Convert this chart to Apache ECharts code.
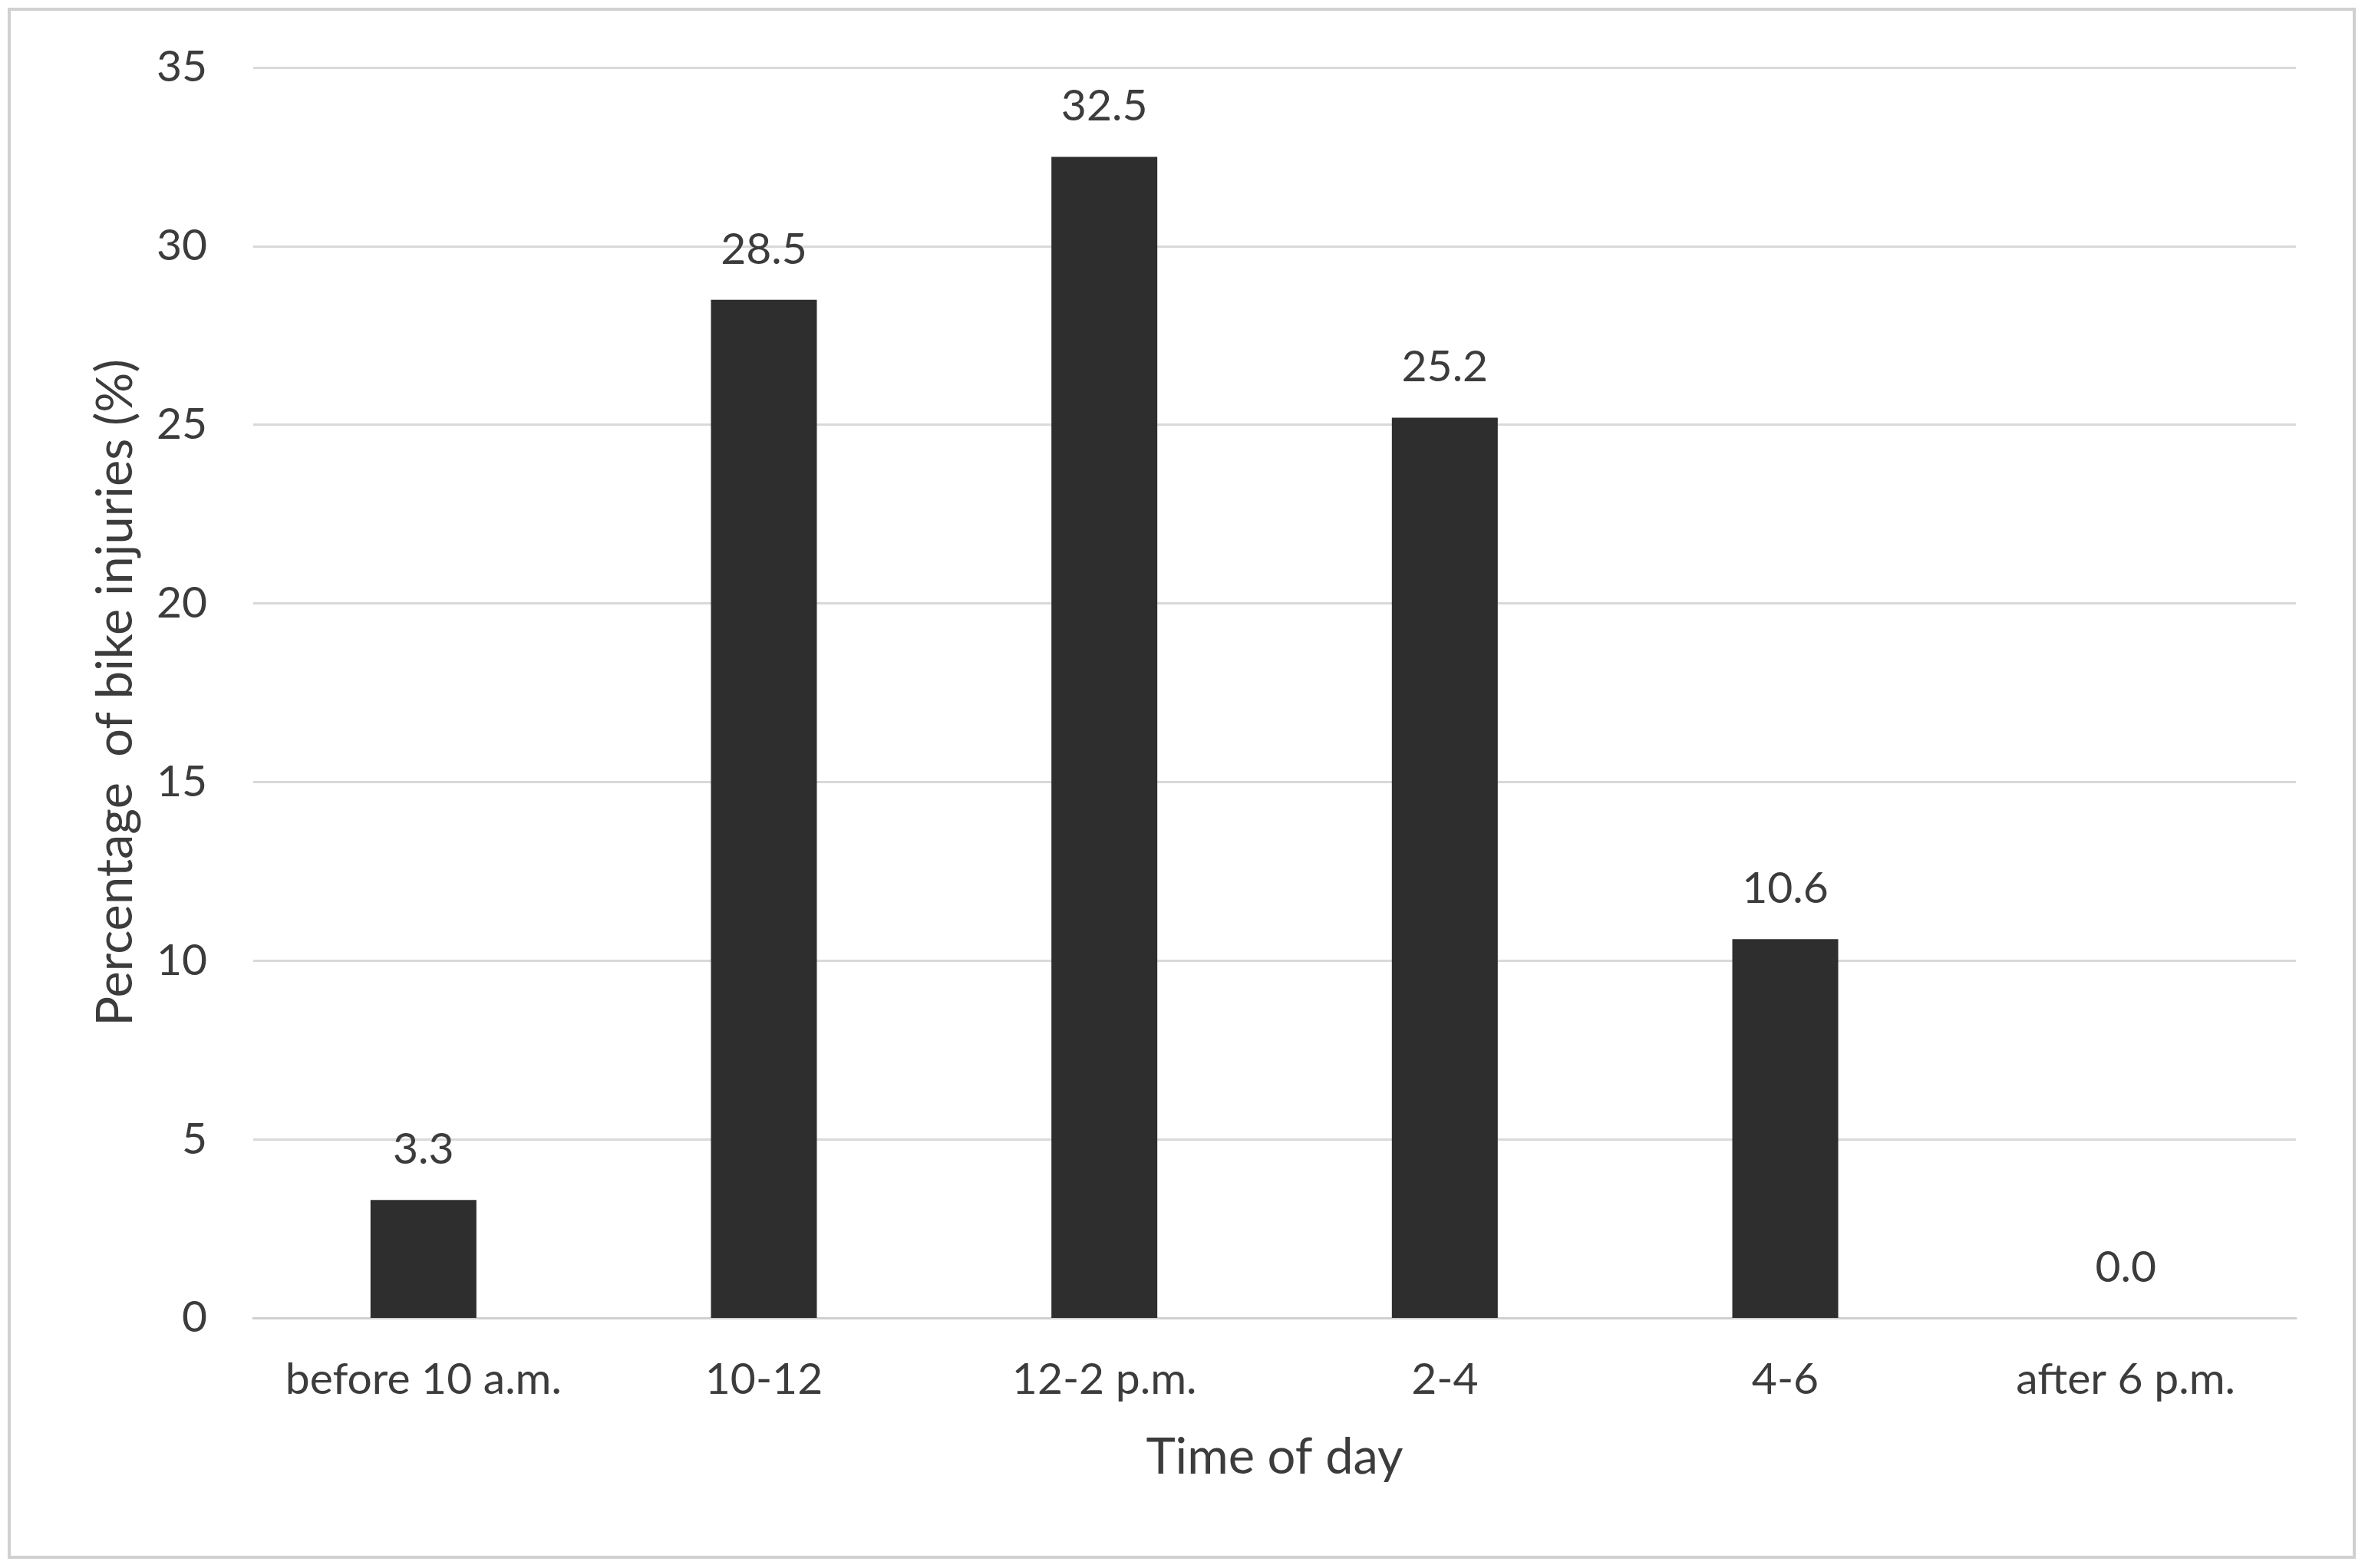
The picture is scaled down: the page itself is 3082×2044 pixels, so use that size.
<!DOCTYPE html>
<html>
<head>
<meta charset="utf-8">
<script src="https://cdn.jsdelivr.net/npm/echarts@6/dist/echarts.min.js"></script>
<style>
html,body{margin:0;padding:0;background:#fff;}
#chart{width:3082px;height:2044px;}
</style>
</head>
<body>
<div id="chart"></div>
<script>
const categories = ["before 10 a.m.", "10-12", "12-2 p.m.", "2-4", "4-6", "after 6 p.m."];
const injuryPercent = [3.3, 28.5, 32.5, 25.2, 10.6, 0.0];
const yTicks = { min: 0, max: 35, interval: 5 };
const xAxisTitle = "Time of day";
const yAxisTitle = "Percentage  of bike injuries (%)";

const FONT = "Lato, 'Open Sans', sans-serif";
const TXT = "#3c3c3c";

const chart = echarts.init(document.getElementById('chart'), null, { renderer: 'canvas' });
chart.setOption({
  backgroundColor: '#ffffff',
  animation: false,
  graphic: [{
    type: 'rect',
    shape: { x: 12, y: 12, width: 3056, height: 2018 },
    style: { fill: 'none', stroke: '#d0d0d0', lineWidth: 4 },
    silent: true
  }],
  grid: { left: 330, right: 90, top: 88, bottom: 326, containLabel: false },
  xAxis: {
    type: 'category',
    data: categories,
    name: xAxisTitle,
    nameLocation: 'middle',
    nameGap: 150,
    nameTextStyle: { fontFamily: FONT, fontSize: 65, color: TXT },
    axisLine: { show: true, lineStyle: { color: '#d0d0d0', width: 3 } },
    axisTick: { show: false },
    axisLabel: { fontFamily: FONT, fontSize: 57, color: TXT, margin: 52, interval: 0 }
  },
  yAxis: {
    type: 'value',
    min: yTicks.min, max: yTicks.max, interval: yTicks.interval,
    name: yAxisTitle,
    nameLocation: 'middle',
    nameGap: 146,
    nameRotate: 90,
    nameTextStyle: { fontFamily: FONT, fontSize: 65, color: TXT },
    axisLine: { show: false },
    axisTick: { show: false },
    axisLabel: { fontFamily: FONT, fontSize: 57, color: TXT, margin: 60 },
    splitLine: { show: true, lineStyle: { color: '#d9d9d9', width: 3 } }
  },
  series: [{
    type: 'bar',
    data: injuryPercent,
    barWidth: 138,
    itemStyle: { color: '#2e2e2e' },
    label: {
      show: true,
      position: 'top',
      distance: 37,
      fontFamily: FONT,
      fontSize: 57,
      color: TXT,
      formatter: p => p.value.toFixed(1)
    }
  }]
});
</script>
</body>
</html>
